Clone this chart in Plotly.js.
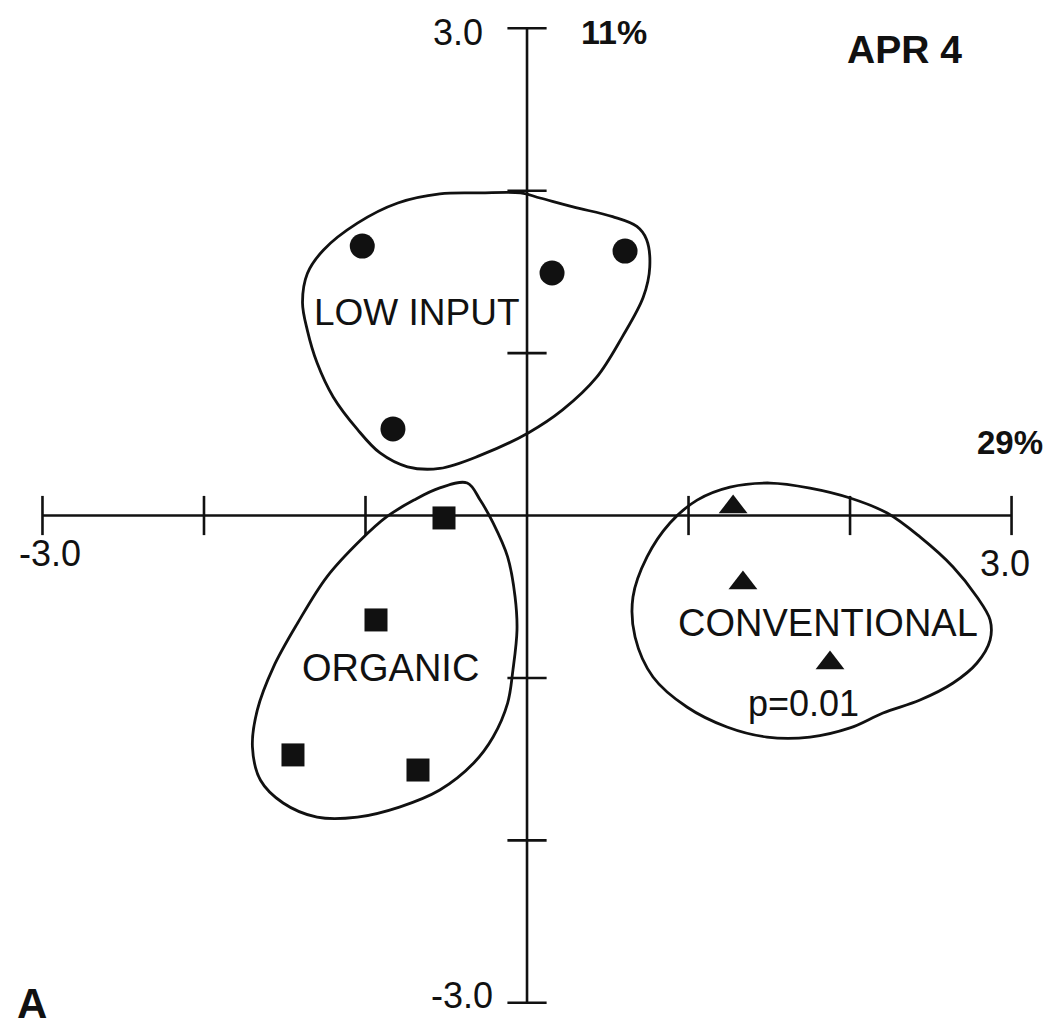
<!DOCTYPE html>
<html>
<head>
<meta charset="utf-8">
<script src="https://cdn.plot.ly/plotly-3.0.1.min.js"></script>
<style>
  html, body { margin: 0; padding: 0; background: #fff; }
  #chart { width: 1055px; height: 1032px; }
</style>
</head>
<body>
<div id="chart"></div>
<script>
// ---- data ----
var axisTicks = [-3, -2, -1, 1, 2, 3];

var lowInputX = [-1.02, 0.155, 0.607, -0.83];
var lowInputY = [1.659, 1.493, 1.628, 0.533];

var organicX = [-0.514, -0.935, -1.449, -0.675];
var organicY = [-0.015, -0.643, -1.474, -1.567];

var conventionalX = [1.276, 1.337, 1.876];
var conventionalY = [0.052, -0.416, -0.908];

// hand-drawn group envelopes (outline points, data units)
var lowInputHullX = [-0.04, -0.29, -0.54, -0.80, -1.05, -1.26, -1.36, -1.39, -1.36, -1.30, -1.20, -1.05, -0.91, -0.74, -0.54, -0.29, 0.01, 0.22, 0.43, 0.59, 0.72, 0.76, 0.74, 0.68, 0.53, 0.285, 0.08];
var lowInputHullY = [1.986, 1.986, 1.98, 1.924, 1.80, 1.635, 1.49, 1.31, 1.14, 0.94, 0.73, 0.53, 0.385, 0.30, 0.29, 0.37, 0.51, 0.65, 0.85, 1.10, 1.345, 1.53, 1.70, 1.78, 1.84, 1.90, 1.955];

var organicHullX = [-0.37, -0.29, -0.21, -0.12, -0.074, -0.062, -0.087, -0.12, -0.21, -0.33, -0.54, -0.79, -1.05, -1.30, -1.51, -1.65, -1.70, -1.67, -1.57, -1.42, -1.24, -1.03, -0.87, -0.70, -0.54];
var organicHullY = [0.20, 0.095, -0.046, -0.255, -0.50, -0.705, -0.95, -1.155, -1.364, -1.524, -1.69, -1.795, -1.857, -1.857, -1.77, -1.63, -1.425, -1.198, -0.933, -0.662, -0.379, -0.151, -0.009, 0.095, 0.17];

var conventionalHullX = [1.505, 1.752, 2.00, 2.23, 2.433, 2.638, 2.786, 2.867, 2.867, 2.786, 2.638, 2.433, 2.204, 2.00, 1.752, 1.486, 1.238, 0.99, 0.78, 0.669, 0.656, 0.743, 0.885, 1.053, 1.257];
var conventionalHullY = [0.20, 0.169, 0.108, 0.015, -0.132, -0.317, -0.502, -0.643, -0.767, -0.908, -1.031, -1.136, -1.216, -1.308, -1.364, -1.364, -1.302, -1.179, -0.994, -0.748, -0.502, -0.255, -0.046, 0.095, 0.175];

var axisEndLabels = ['-3.0', '3.0', '3.0', '-3.0'];
var varianceLabels = ['29%', '11%'];
var groupLabels = ['LOW INPUT', 'ORGANIC', 'CONVENTIONAL'];
var dateLabel = 'APR 4';
var pLabel = 'p=0.01';
var panelLabel = 'A';

// ---- build ----
function closed(a) { return a.concat([a[0]]); }
var ink = '#111';
var zeros = axisTicks.map(function () { return 0; });

var traces = [
  { x: [-3, 3], y: [0, 0], mode: 'lines', line: { color: ink, width: 2.6 }, hoverinfo: 'skip' },
  { x: [0, 0], y: [-3, 3], mode: 'lines', line: { color: ink, width: 2.6 }, hoverinfo: 'skip' },
  { x: axisTicks, y: zeros, mode: 'markers', hoverinfo: 'skip',
    marker: { symbol: 'line-ns-open', size: 28, color: ink, line: { color: ink, width: 2.6 } } },
  { x: zeros, y: axisTicks, mode: 'markers', hoverinfo: 'skip',
    marker: { symbol: 'line-ew-open', size: 28, color: ink, line: { color: ink, width: 2.6 } } },
  { x: closed(lowInputHullX), y: closed(lowInputHullY), mode: 'lines',
    line: { color: ink, width: 2.8, shape: 'spline', smoothing: 1 }, hoverinfo: 'skip' },
  { x: closed(organicHullX), y: closed(organicHullY), mode: 'lines',
    line: { color: ink, width: 2.8, shape: 'spline', smoothing: 1 }, hoverinfo: 'skip' },
  { x: closed(conventionalHullX), y: closed(conventionalHullY), mode: 'lines',
    line: { color: ink, width: 2.8, shape: 'spline', smoothing: 1 }, hoverinfo: 'skip' },
  { name: groupLabels[0], x: lowInputX, y: lowInputY, mode: 'markers',
    marker: { symbol: 'circle', size: 25, color: ink } },
  { name: groupLabels[1], x: organicX, y: organicY, mode: 'markers',
    marker: { symbol: 'square', size: 23, color: ink } },
  { name: groupLabels[2], x: conventionalX, y: conventionalY, mode: 'markers',
    marker: { symbol: 'triangle-up', size: 25, color: ink } }
];

var W = 1055, H = 1032;
function px(x) { return x / W; }
function py(y) { return 1 - y / H; }
var fam = 'Liberation Sans, Arial, Helvetica, sans-serif';
var txtFont = { family: fam, size: 38, color: ink };
var numFont = { family: fam, size: 36, color: ink };

function ann(text, x, y, font) {
  return { text: text, x: px(x), y: py(y), xref: 'paper', yref: 'paper',
           xanchor: 'center', yanchor: 'middle', showarrow: false, font: font };
}

var annotations = [
  ann(axisEndLabels[0], 50, 553, numFont),
  ann(axisEndLabels[1], 1005, 563, numFont),
  ann(axisEndLabels[2], 458, 32, numFont),
  ann(axisEndLabels[3], 462, 995, numFont),
  ann('<b>' + varianceLabels[0] + '</b>', 1010, 442, { family: fam, size: 33, color: ink }),
  ann('<b>' + varianceLabels[1] + '</b>', 614, 32, { family: fam, size: 34, color: ink }),
  ann(groupLabels[0], 417, 312, { family: fam, size: 37, color: ink }),
  ann(groupLabels[1], 390, 668, txtFont),
  ann(groupLabels[2], 828, 623, txtFont),
  ann(pLabel, 803, 703, { family: fam, size: 36, color: ink }),
  ann('<b>' + dateLabel + '</b>', 904, 50, { family: fam, size: 39, color: ink }),
  ann('<b>' + panelLabel + '</b>', 32, 1003, { family: fam, size: 42, color: ink })
];

var layout = {
  width: W, height: H,
  margin: { l: 0, r: 0, t: 0, b: 0, pad: 0 },
  paper_bgcolor: '#ffffff', plot_bgcolor: '#ffffff',
  showlegend: false,
  xaxis: { range: [-3.263, 3.269], visible: false, showgrid: false, zeroline: false, fixedrange: true },
  yaxis: { range: [-3.180, 3.174], visible: false, showgrid: false, zeroline: false, fixedrange: true },
  annotations: annotations
};

Plotly.newPlot('chart', traces, layout, { displayModeBar: false, staticPlot: true });
</script>
</body>
</html>
